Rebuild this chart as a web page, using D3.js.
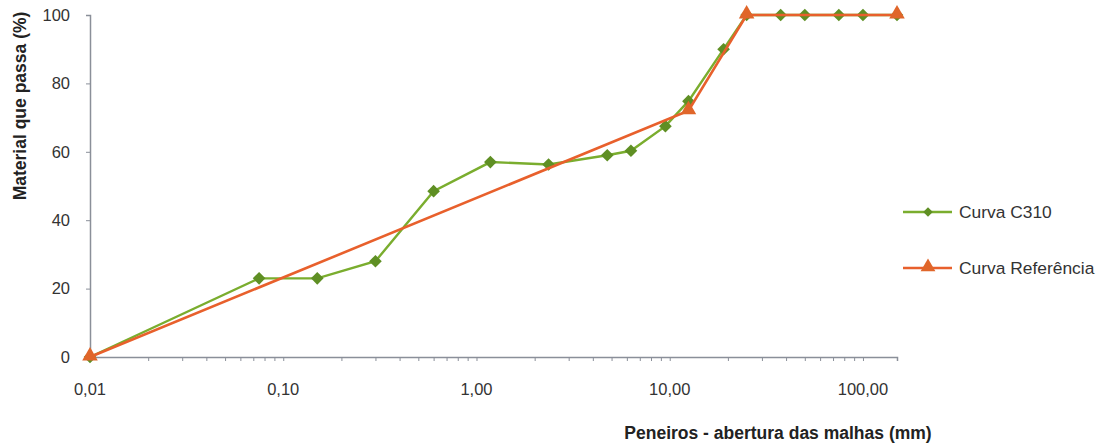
<!DOCTYPE html>
<html>
<head>
<meta charset="utf-8">
<script src="https://cdn.jsdelivr.net/npm/d3@7"></script>
<style>
  html, body { margin: 0; padding: 0; background: #fff; }
  svg { display: block; font-family: "Liberation Sans", Arial, Helvetica, sans-serif; }
</style>
</head>
<body>
<svg id="chart" width="1107" height="444"></svg>
<script>
// Data (sieve aperture in mm, % passing)
const c310Sizes  = [0.01, 0.075, 0.15, 0.3, 0.6, 1.18, 2.36, 4.75, 6.3, 9.5, 12.5, 19, 25, 37.5, 50, 75, 100, 150];
const c310Values = [0, 23, 23, 28, 48.5, 57, 56.3, 59, 60.3, 67.5, 74.8, 90, 100, 100, 100, 100, 100, 100];
const refSizes   = [0.01, 12.5, 25, 150];
const refValues  = [0, 72, 100, 100];
const xTickValues = [0.01, 0.1, 1, 10, 100];
const yTickValues = [0, 20, 40, 60, 80, 100];
const seriesNames = ["Curva C310", "Curva Referência"];

const svg = d3.select("#chart");
const x = d3.scaleLog().domain([0.01, 150]).range([90, 897]);
const y = d3.scaleLinear().domain([0, 100]).range([357, 15]);

const axisColor = "#8a8f99";
const textColor = "#333";
const green = "#7aad2e", greenMark = "#5f8f24";
const orange = "#e8602c", orangeMark = "#e0662a";
const FONT = "'Liberation Sans', Arial, Helvetica, sans-serif";

// minor tick values
const minorTicks = [];
for (let e = -2; e <= 2; e++) for (let m = 1; m <= 9; m++) {
  const v = m * Math.pow(10, e);
  if (v >= 0.01 && v <= 150) minorTicks.push(v);
}
minorTicks.push(150);

// X axis
const fmt = v => d3.format(".2f")(v).replace(".", ",");
const xAxis = svg.append("g").attr("transform", `translate(0,${y(0)})`)
  .call(d3.axisBottom(x).tickValues(minorTicks).tickSize(4).tickFormat(""));
xAxis.select(".domain").attr("stroke", axisColor).attr("stroke-width", 1.5);
xAxis.selectAll(".tick line").attr("stroke", axisColor);
svg.append("g").selectAll("text").data(xTickValues).join("text")
  .attr("x", d => x(d)).attr("y", 395)
  .attr("text-anchor", "middle").attr("font-size", 16.5).attr("fill", textColor)
  .text(fmt);

// Y axis
const yAxis = svg.append("g").attr("transform", `translate(${x(0.01)},0)`)
  .call(d3.axisLeft(y).tickValues(yTickValues).tickSize(4).tickPadding(16));
yAxis.select(".domain").attr("stroke", axisColor).attr("stroke-width", 1.5);
yAxis.selectAll(".tick line").attr("stroke", axisColor);
yAxis.selectAll(".tick text").attr("font-size", 16.5).attr("fill", textColor)
  .attr("font-family", FONT);

// Axis titles
svg.append("text")
  .attr("transform", "translate(26,106) rotate(-90)")
  .attr("text-anchor", "middle").attr("font-size", 17.5).attr("font-weight", "bold")
  .attr("fill", "#222").text("Material que passa (%)");
svg.append("text")
  .attr("x", 778).attr("y", 439)
  .attr("text-anchor", "middle").attr("font-size", 17.5).attr("font-weight", "bold")
  .attr("fill", "#222").text("Peneiros - abertura das malhas (mm)");

const line = d3.line().x(d => x(d[0])).y(d => y(d[1]));
const c310 = c310Sizes.map((s, i) => [s, c310Values[i]]);
const ref = refSizes.map((s, i) => [s, refValues[i]]);

// C310 line + markers (diamond = rotated square)
svg.append("path").datum(c310).attr("d", line)
  .attr("fill", "none").attr("stroke", green).attr("stroke-width", 2.4);
svg.append("g").selectAll("path").data(c310).join("path")
  .attr("transform", d => `translate(${x(d[0])},${y(d[1])}) rotate(45)`)
  .attr("d", d3.symbol(d3.symbolSquare, 80))
  .attr("fill", greenMark);

// Reference line + markers
svg.append("path").datum(ref).attr("d", line)
  .attr("fill", "none").attr("stroke", orange).attr("stroke-width", 2.6);
svg.append("g").selectAll("path").data(ref).join("path")
  .attr("transform", d => `translate(${x(d[0])},${y(d[1]) - 1})`)
  .attr("d", d3.symbol(d3.symbolTriangle, 105))
  .attr("fill", orangeMark);

// Legend
const legend = [
  { name: seriesNames[0], color: green, mark: greenMark, sym: d3.symbolSquare, size: 45, rot: 45, y: 212 },
  { name: seriesNames[1], color: orange, mark: orangeMark, sym: d3.symbolTriangle, size: 95, rot: 0, y: 268 }
];
const lg = svg.append("g");
legend.forEach(l => {
  lg.append("line").attr("x1", 903).attr("x2", 952).attr("y1", l.y).attr("y2", l.y)
    .attr("stroke", l.color).attr("stroke-width", 2.4);
  lg.append("path").attr("transform", `translate(928,${l.y - (l.rot ? 0 : 1)}) rotate(${l.rot})`)
    .attr("d", d3.symbol(l.sym, l.size)).attr("fill", l.mark);
  lg.append("text").attr("x", 959).attr("y", l.y).attr("dy", "0.36em")
    .attr("font-size", 17.4).attr("fill", textColor).text(l.name);
});
</script>
</body>
</html>
